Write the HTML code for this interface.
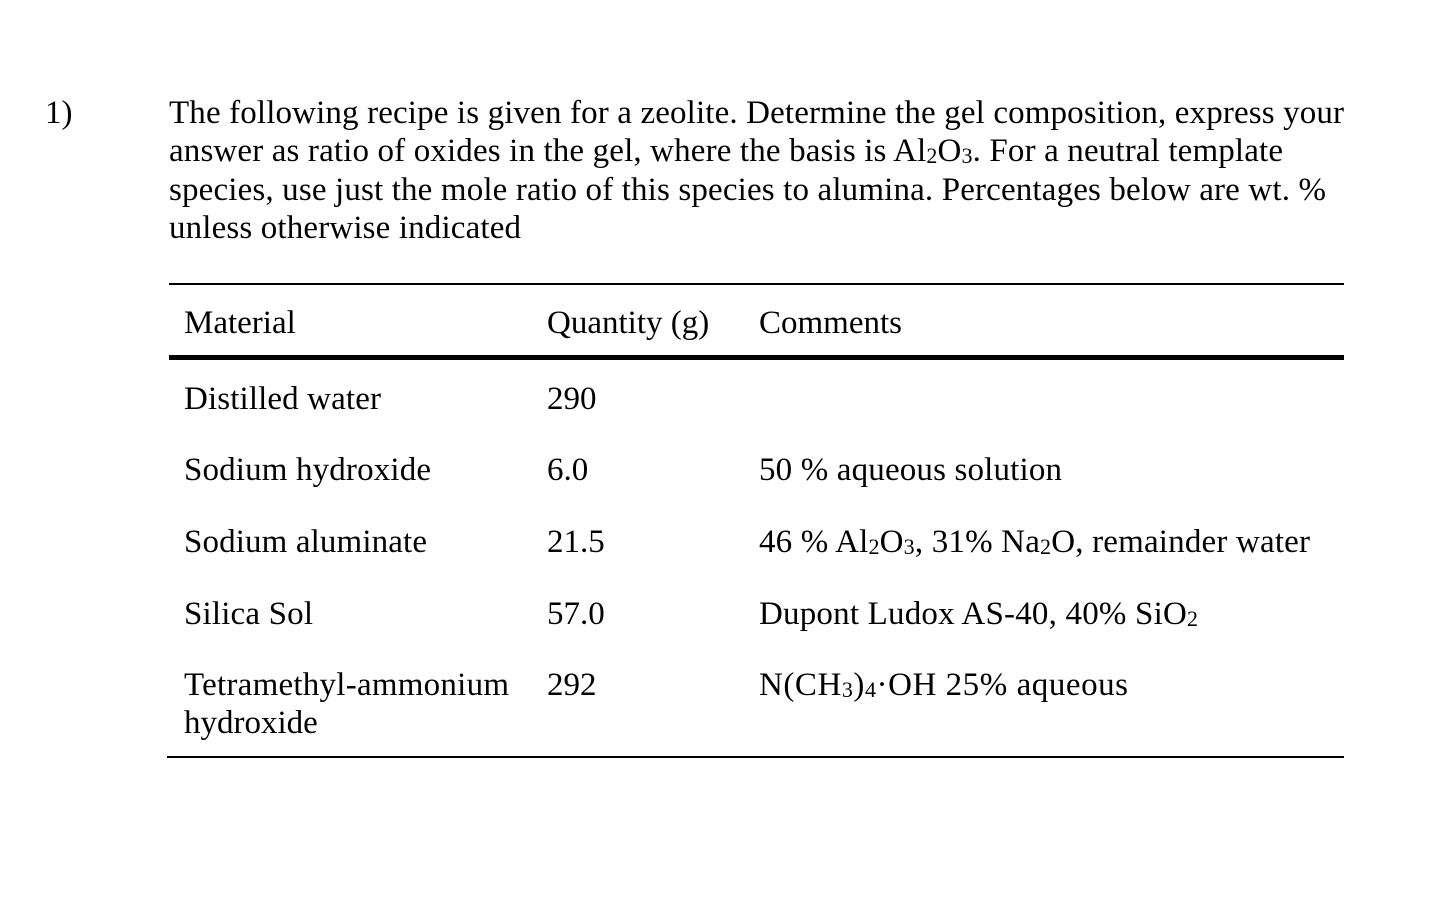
<!DOCTYPE html>
<html><head><meta charset="utf-8"><style>
html,body{margin:0;padding:0;background:#fff;}
svg{display:block;}
text{font-family:"Liberation Serif","Times New Roman",serif;font-size:33px;fill:#000;}
.s{font-size:22px;}
</style></head><body>
<svg width="1429" height="916" viewBox="0 0 1429 916">
<text x="45" y="123">1)</text>
<g>
<text x="169" y="123" textLength="1175" lengthAdjust="spacing">The following recipe is given for a zeolite. Determine the gel composition, express your</text>
<text x="169" y="161" textLength="1114" lengthAdjust="spacing">answer as ratio of oxides in the gel, where the basis is Al<tspan class="s" dy="2">2</tspan><tspan dy="-2">O</tspan><tspan class="s" dy="2">3</tspan><tspan dy="-2">. For a neutral template</tspan></text>
<text x="169" y="200" textLength="1157" lengthAdjust="spacing">species, use just the mole ratio of this species to alumina. Percentages below are wt. %</text>
<text x="169" y="238" textLength="352" lengthAdjust="spacing">unless otherwise indicated</text>
</g>
<g>
<rect x="169" y="283" width="1175" height="2" fill="#000"/>
<rect x="169" y="355" width="1175" height="5" fill="#000"/>
<rect x="167" y="756" width="1177" height="2" fill="#000"/>
<text x="184" y="333">Material</text>
<text x="547" y="333">Quantity (g)</text>
<text x="759" y="333">Comments</text>

<text x="184" y="409" textLength="197" lengthAdjust="spacing">Distilled water</text>
<text x="547" y="409">290</text>

<text x="184" y="480" textLength="247" lengthAdjust="spacing">Sodium hydroxide</text>
<text x="547" y="480">6.0</text>
<text x="759" y="480" textLength="303" lengthAdjust="spacing">50 % aqueous solution</text>

<text x="184" y="552" textLength="243" lengthAdjust="spacing">Sodium aluminate</text>
<text x="547" y="552">21.5</text>
<text x="759" y="552" textLength="551" lengthAdjust="spacing">46 % Al<tspan class="s" dy="2">2</tspan><tspan dy="-2">O</tspan><tspan class="s" dy="2">3</tspan><tspan dy="-2">, 31% Na</tspan><tspan class="s" dy="2">2</tspan><tspan dy="-2">O, remainder water</tspan></text>

<text x="184" y="624" textLength="129" lengthAdjust="spacing">Silica Sol</text>
<text x="547" y="624">57.0</text>
<text x="759" y="624" textLength="439" lengthAdjust="spacing">Dupont Ludox AS-40, 40% SiO<tspan class="s" dy="2">2</tspan></text>

<text x="184" y="695" textLength="325" lengthAdjust="spacing">Tetramethyl-ammonium</text>
<text x="184" y="733">hydroxide</text>
<text x="547" y="695">292</text>
<text x="759" y="695" textLength="369" lengthAdjust="spacing">N(CH<tspan class="s" dy="2">3</tspan><tspan dy="-2">)</tspan><tspan class="s" dy="2">4</tspan><tspan dy="-2">·OH  25% aqueous</tspan></text>
</g>
</svg>
</body></html>
